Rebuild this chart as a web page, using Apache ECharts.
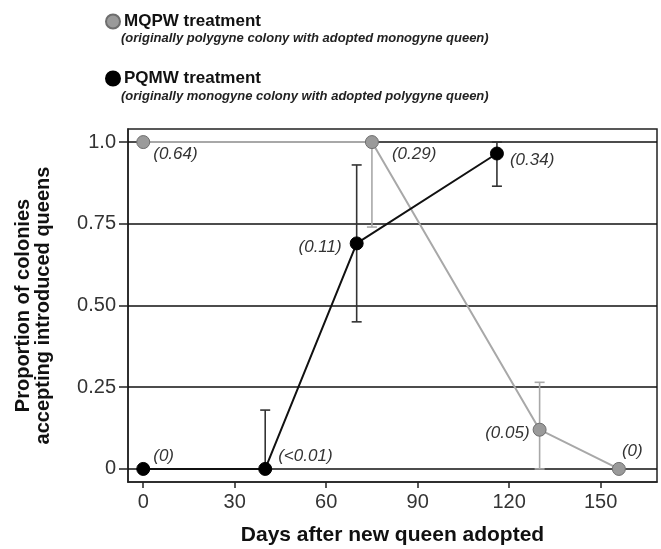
<!DOCTYPE html>
<html>
<head>
<meta charset="utf-8">
<script src="https://cdn.jsdelivr.net/npm/echarts@6/dist/echarts.min.js"></script>
<style>
  html, body { margin: 0; padding: 0; background: #fff; }
  #chart { width: 661px; height: 549px; }
</style>
</head>
<body>
<div id="chart"></div>
<script>
var myChart = echarts.init(document.getElementById('chart'));

// MQPW treatment (grey)
var mqpwDays = [0, 75, 130, 156];
var mqpwProp = [1.0, 1.0, 0.12, 0];
var mqpwNote = ['(0.64)', '(0.29)', '(0.05)', '(0)'];
var mqpwErr = [[75, 0.74, 1.0], [130, 0, 0.265]];

// PQMW treatment (black)
var pqmwDays = [0, 40, 70, 116];
var pqmwProp = [0, 0, 0.69, 0.965];
var pqmwNote = ['(0)', '(<0.01)', '(0.11)', '(0.34)'];
var pqmwErr = [[40, 0, 0.18], [70, 0.45, 0.93], [116, 0.865, 1.0]];

var xTicks = [0, 30, 60, 90, 120, 150];
var yTicks = [0, 0.25, 0.5, 0.75, 1];
var xMin = -5, xMax = 168.5;

// where each note sits next to its point
var mqpwPlace = [['right', [3, 12]], ['right', [13, 12]], ['left', [-3, 4]], ['right', [-4, -18]]];
var pqmwPlace = [['right', [3, -13]], ['right', [6, -13]], ['left', [-8, 4]], ['right', [6, 7]]];

var grey = '#a8a8a8';
var black = '#111';

function points(days, prop, place) {
    return days.map(function (d, i) {
        return {
            value: [d, prop[i]],
            label: { position: place[i][0], offset: place[i][1] }
        };
    });
}

function errorBars(color) {
    return function (params, api) {
        var x = api.value(0);
        var lo = api.coord([x, api.value(1)]);
        var hi = api.coord([x, api.value(2)]);
        var w = 5;
        var st = { stroke: color, lineWidth: 1.6 };
        return {
            type: 'group',
            children: [
                { type: 'line', shape: { x1: lo[0], y1: lo[1], x2: hi[0], y2: hi[1] }, style: st },
                { type: 'line', shape: { x1: lo[0] - w, y1: lo[1], x2: lo[0] + w, y2: lo[1] }, style: st },
                { type: 'line', shape: { x1: hi[0] - w, y1: hi[1], x2: hi[0] + w, y2: hi[1] }, style: st }
            ]
        };
    };
}

var noteStyle = {
    show: true,
    distance: 0,
    fontFamily: 'Liberation Sans',
    fontStyle: 'italic',
    fontSize: 17,
    color: '#333'
};

var option = {
    backgroundColor: '#fff',
    animation: false,
    textStyle: { fontFamily: 'Liberation Sans' },
    legend: {
        orient: 'vertical',
        left: 100,
        top: 8,
        itemWidth: 14,
        itemHeight: 14,
        itemGap: 40,
        data: [{ name: 'MQPW treatment', icon: 'circle' }, { name: 'PQMW treatment', icon: 'circle' }],
        textStyle: { fontSize: 17, fontWeight: 'bold', color: '#111', padding: [0, 0, 0, -1] }
    },
    graphic: [
        {
            type: 'text', left: 121, top: 32,
            style: { text: '(originally polygyne colony with adopted monogyne queen)', font: 'italic bold 13px "Liberation Sans"', fill: '#222' }
        },
        {
            type: 'text', left: 121, top: 90,
            style: { text: '(originally monogyne colony with adopted polygyne queen)', font: 'italic bold 13px "Liberation Sans"', fill: '#222' }
        }
    ],
    grid: {
        left: 128, right: 4, top: 129, bottom: 67,
        show: true,
        borderColor: '#222',
        borderWidth: 1.5,
        outerBoundsMode: 'none'
    },
    xAxis: {
        type: 'value',
        min: xMin,
        max: xMax,
        name: 'Days after new queen adopted',
        nameLocation: 'middle',
        nameGap: 43,
        nameTextStyle: { fontSize: 21, fontWeight: 'bold', color: '#111' },
        axisLine: { show: true, onZero: false, lineStyle: { color: '#222', width: 1.5 } },
        axisTick: { show: true, length: 6, customValues: xTicks, lineStyle: { color: '#222', width: 1.5 } },
        axisLabel: { customValues: xTicks, fontSize: 20, color: '#333', margin: 10 },
        splitLine: { show: false }
    },
    yAxis: {
        type: 'value',
        min: -0.04,
        max: 1.04,
        name: 'Proportion of colonies\naccepting introduced queens',
        nameLocation: 'middle',
        nameGap: 75,
        nameTextStyle: { fontSize: 20, fontWeight: 'bold', color: '#111', lineHeight: 20 },
        axisLine: { show: true, onZero: false, lineStyle: { color: '#222', width: 1.5 } },
        axisTick: { show: true, length: 9, customValues: yTicks, lineStyle: { color: '#222', width: 1.5 } },
        axisLabel: {
            customValues: yTicks, fontSize: 20, color: '#333', margin: 12,
            formatter: function (v) {
                if (v === 0) return '0';
                if (v === 1) return '1.0';
                return v.toFixed(2);
            }
        },
        splitLine: { show: false }
    },
    series: [
        {
            name: 'gridlines',
            type: 'line',
            data: [],
            z: 1,
            silent: true,
            markLine: {
                silent: true,
                z: 1,
                symbol: 'none',
                label: { show: false },
                lineStyle: { color: '#111', width: 1.5, type: 'solid' },
                data: yTicks.map(function (v) { return [{ coord: [xMin, v] }, { coord: [xMax, v] }]; })
            }
        },
        {
            name: 'MQPW err',
            type: 'custom',
            z: 2,
            renderItem: errorBars(grey),
            encode: { x: 0, y: [1, 2] },
            data: mqpwErr
        },
        {
            name: 'MQPW treatment',
            type: 'line',
            z: 3,
            clip: false,
            data: points(mqpwDays, mqpwProp, mqpwPlace),
            symbol: 'circle',
            symbolSize: 13,
            itemStyle: { color: '#9a9a9a', borderColor: '#6e6e6e', borderWidth: 1 },
            lineStyle: { color: grey, width: 2 },
            label: Object.assign({ formatter: function (p) { return mqpwNote[p.dataIndex]; } }, noteStyle)
        },
        {
            name: 'PQMW err',
            type: 'custom',
            z: 4,
            renderItem: errorBars('#333'),
            encode: { x: 0, y: [1, 2] },
            data: pqmwErr
        },
        {
            name: 'PQMW treatment',
            type: 'line',
            z: 5,
            clip: false,
            data: points(pqmwDays, pqmwProp, pqmwPlace),
            symbol: 'circle',
            symbolSize: 13,
            itemStyle: { color: '#000', borderColor: '#000', borderWidth: 1 },
            lineStyle: { color: black, width: 2 },
            label: Object.assign({ formatter: function (p) { return pqmwNote[p.dataIndex]; } }, noteStyle)
        }
    ]
};

myChart.setOption(option);
</script>
</body>
</html>
